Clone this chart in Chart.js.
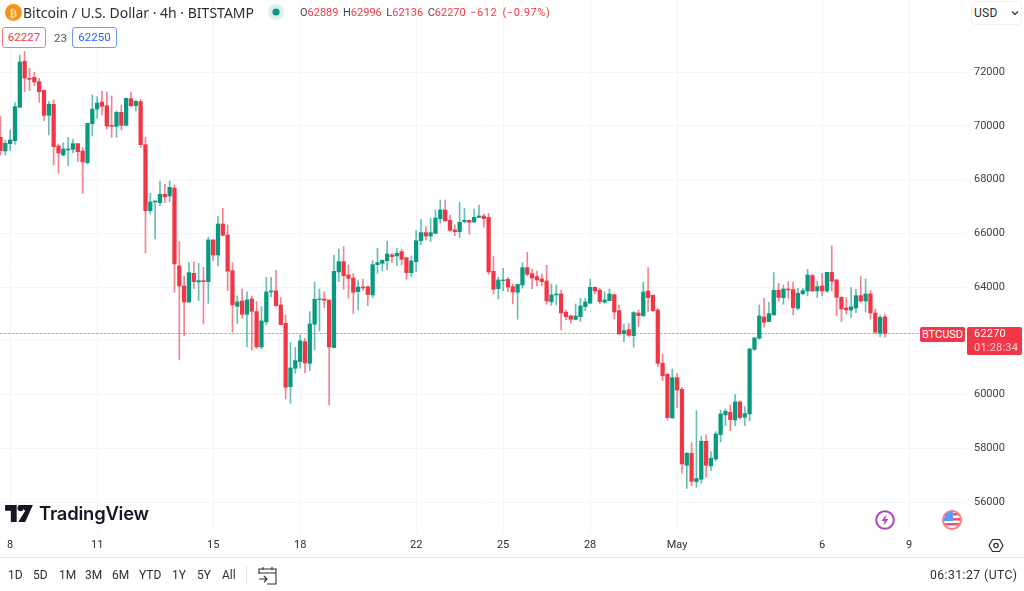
<!DOCTYPE html>
<html>
<head>
<meta charset="utf-8">
<title>BTCUSD 4h</title>
<script src="https://cdn.jsdelivr.net/npm/chart.js@4/dist/chart.umd.min.js"></script>
<style>
  html, body { margin: 0; padding: 0; background: #fff; }
  body { width: 1024px; height: 591px; position: relative; overflow: hidden; font-family: Roboto, sans-serif; color: #131722; }
  #wrap { position: absolute; left: 0; top: 0; width: 1024px; height: 557px; }
  .t { position: absolute; white-space: nowrap; line-height: 16px; }
  .title { left: 23px; top: 5px; font-family: "Noto Sans", sans-serif; font-size: 14px; color: #2a2e39; }
  .ohlc { left: 300px; top: 5px; font-size: 11px; color: #434651; }
  .ohlc b { font-weight: 400; color: #f23645; margin-right: 4.5px; }
  .ohlc b.chg { letter-spacing: .55px; word-spacing: 2px; }
  .box { position: absolute; box-sizing: border-box; height: 21px; top: 27px; border-radius: 3px; font-size: 11.5px; line-height: 19px; text-align: center; background: #fff; }
  .bar { top: 567px; font-size: 12px; color: #2a2e39; }
  .rule { position: absolute; background: #e0e3eb; }
  .tag { position: absolute; background: #f23645; color: #fff; font-size: 11px; border-radius: 2px; }
  svg { position: absolute; }
</style>
</head>
<body>
<div id="wrap"><canvas id="chart" width="1024" height="557"></canvas></div>

<svg style="left:5px;top:4px" width="17" height="17" viewBox="0 0 17 17"><circle cx="8.5" cy="8.5" r="8.5" fill="#f7931a"/><text x="8.5" y="12.5" font-size="11" font-family="DejaVu Sans" font-weight="700" fill="#fde3bd" text-anchor="middle">₿</text></svg>
<div class="t title">Bitcoin / U.S. Dollar · 4h · BITSTAMP</div>
<svg style="left:268px;top:4px" width="16" height="16"><circle cx="8" cy="8" r="8" fill="#dcefeb"/><circle cx="8" cy="8" r="3.6" fill="#089981"/></svg>
<div class="t ohlc">O<b>62889</b>H<b>62996</b>L<b>62136</b>C<b>62270</b><b class="chg">−612 (−0.97%)</b></div>
<div class="box" style="left:2px;width:44px;border:1px solid #f77c80;color:#f23645">62227</div>
<div class="t" style="left:54px;top:30px;font-size:11.5px;color:#50535e">23</div>
<div class="box" style="left:72px;width:45px;border:1px solid #6b9cf8;color:#2962ff">62250</div>
<div class="box" style="left:971px;top:1px;width:51px;height:24px;border:1px solid #eef0f3;border-radius:4px;font-size:12px;line-height:22px;text-align:left;padding-left:2px;color:#2a2e39;letter-spacing:.3px">USD</div>
<svg style="left:1011px;top:10px" width="8" height="6" fill="none" stroke="#2a2e39" stroke-width="1.2"><path d="M1 1.5 4 4.5 7 1.5"/></svg>

<div class="tag" style="left:920px;top:327px;width:45px;height:15px;line-height:15px;text-align:center">BTCUSD</div>
<div class="tag" style="left:967px;top:327px;width:55px;height:28px;padding-left:7px;box-sizing:border-box;line-height:13.5px;letter-spacing:.2px">62270<br><span style="opacity:.75">01:28:34</span></div>

<svg style="left:5px;top:505px" width="28" height="17" viewBox="0 0 36 22"><path d="M0 0h15v22H7.5V7.5H0zM17.5 0h18.5L26 22h-9L26 7.5" fill="#131722"/><circle cx="20" cy="4" r="4" fill="#131722"/></svg>
<div class="t" style="left:39px;top:503px;font-family:Inter,sans-serif;font-size:18.4px;line-height:20px;font-weight:600;letter-spacing:-.2px;color:#131722">TradingView</div>

<svg style="left:875px;top:510px" width="20" height="20"><circle cx="10" cy="10" r="8.8" fill="#fff" stroke="#ab47bc" stroke-width="2"/><path d="M11.5 4.5 6.5 11h3l-1 4.5 5-6.5h-3z" fill="#ab47bc"/></svg>
<svg style="left:942px;top:510px" width="20" height="20"><defs><clipPath id="c"><circle cx="10" cy="10" r="8.2"/></clipPath></defs><circle cx="10" cy="10" r="9" fill="#fff" stroke="#f77c80" stroke-width="2"/><g clip-path="url(#c)"><rect y="3" width="20" height="2.5" fill="#f7525f"/><rect y="8" width="20" height="2.5" fill="#f7525f"/><rect y="13" width="20" height="2.5" fill="#f7525f"/><rect y="1" width="11" height="10" fill="#5b9cf6"/></g></svg>
<svg style="left:988px;top:538px" width="16" height="15" viewBox="0 0 16 15" fill="none" stroke="#2a2e39" stroke-width="1.2"><path d="M4.5 1.5h7L15 7.5l-3.5 6h-7L1 7.5z"/><circle cx="8" cy="7.5" r="2.2"/></svg>

<div class="rule" style="left:0;top:557px;width:1024px;height:1px"></div>
<div id="ranges"></div>
<div class="rule" style="left:246px;top:566px;width:1px;height:19px"></div>
<svg style="left:258px;top:566px" width="20" height="19" viewBox="0 0 20 19" fill="none" stroke="#2a2e39" stroke-width="1.1"><path d="M1 8V3h17v15H9M1 7h17M5 1v3M14 1v3M1 13h8M6 10l3 3-3 3"/></svg>
<div class="t bar" style="left:930px;letter-spacing:.45px;font-size:12.2px">06:31:27 (UTC)</div>

<script>
const opens = [
  69569,69061,69334,69445,70685,72396,71764,71801,71640,71318,
  70388,70797,69247,68912,69098,69123,69334,69061,68627,70078,
  70623,70884,70747,70016,69978,70499,70016,71008,70747,70896,
  69296,66841,67164,67139,67449,67387,67684,64783,64039,63444,
  64510,64188,64237,64200,65750,65192,66345,65936,64609,63282,
  63481,62985,63555,63084,61770,62700,63816,63853,63332,62650,
  60294,60976,61224,61968,61162,62613,63530,63555,63518,61745,
  64560,64944,64448,64336,63828,64002,64014,63704,64832,64882,
  64981,65192,65155,65316,65093,64535,64944,65725,66023,65899,
  65998,66544,66866,66482,66122,66060,66432,66482,66420,66593,
  66643,66593,64584,63940,64237,64287,64014,63803,64076,64721,
  64498,64386,64299,64225,63444,63704,63741,63059,62923,62799,
  62898,63270,63394,63989,63878,63431,63493,63716,63121,62266,
  62414,62191,63034,62935,63853,63692,63146,61162,60753,59128,
  60629,60195,57368,57814,56760,56847,58260,57343,57603,58508,
  59240,59339,59054,59724,59153,59277,61683,62092,62886,62712,
  62960,63878,63605,63927,63902,63208,63754,63853,64423,63853,
  64039,63853,64547,64262,63617,63220,63146,63220,63679,63481,
  63741,63034,62278,62889
];
const highs = [
  70338,69470,69842,70859,72632,72768,72136,71987,71764,71330,
  70896,70958,69321,69371,69569,69495,69346,69185,70090,71144,
  71082,71280,71256,71107,70549,70772,71020,71256,70958,70983,
  69569,67486,67201,67945,67821,67945,67796,65688,64411,64919,
  64944,64882,64733,65849,65775,66618,66928,66308,64907,63667,
  63927,63816,63667,63456,63270,64361,64361,64634,63605,62960,
  61943,61757,62216,62092,63084,64175,63927,63828,63518,65192,
  65415,65502,64820,64510,64262,64299,64014,64981,65440,65006,
  65713,65254,65440,65403,65093,65155,66097,66519,66246,66556,
  66866,67238,67238,66680,66308,67151,66928,66494,66903,67052,
  66717,66742,65130,64361,64696,64361,64113,64101,64907,65291,
  64659,64597,64485,64808,64113,64076,63890,63146,62960,63369,
  63580,63580,64299,64014,63952,63828,63927,63741,63332,62625,
  62650,63084,63146,64175,64721,63704,63208,61509,60790,60951,
  60790,60269,57839,58211,59401,58434,58496,57876,58620,59426,
  59463,59612,59996,59761,59550,61720,62129,63332,63580,63431,
  64535,64138,64076,64200,64175,63952,63952,64659,64473,64225,
  64510,64547,65527,64299,63642,63617,63977,63915,64386,64299,
  63865,63183,62960,62996
];
const lows = [
  68912,68912,69073,69309,70685,71268,71305,71491,70871,70189,
  69656,68540,68230,68875,68503,68999,68664,67486,68577,69619,
  70276,70400,69867,69569,69569,69842,69991,70710,70549,69197,
  65266,66717,65787,67015,67139,67176,63803,61286,62179,63419,
  63940,63493,62625,63394,64981,64783,65899,63865,62328,62650,
  62836,61782,61658,61720,61708,62588,63642,63282,62588,59835,
  59674,60790,60976,60815,60889,61658,62365,63233,59612,61745,
  64200,63915,63580,63010,63146,63865,63307,63605,64510,64597,
  64634,64907,64795,64820,64287,64386,64560,65564,65750,65688,
  65973,66370,66432,66060,65911,65837,66395,65973,66395,66593,
  66221,64473,63741,63555,63865,63828,63369,62799,63952,64411,
  63940,64039,64039,63357,63307,63332,62402,62774,62650,62774,
  62712,63121,63394,63741,63369,63394,63493,62811,62253,61968,
  62154,61757,62526,62898,63084,63084,61038,60517,59054,59116,
  59513,57070,56500,56599,56549,56698,56921,57169,57529,58236,
  58843,58657,58843,59079,58843,59017,61633,62055,62501,62712,
  62960,63456,63357,63580,62960,63146,63704,63667,63828,63605,
  63667,63803,63853,62923,62712,62997,62873,63047,63419,63072,
  62799,62278,62154,62136
];
const closes = [
  69073,69346,69470,70710,72372,71776,71727,71628,71268,70388,
  70797,69222,68986,69135,69135,69334,69036,68652,70090,70623,
  70846,70722,69991,69978,70499,70016,71020,70747,70908,69296,
  66841,67164,67201,67449,67350,67709,64857,64039,63444,64535,
  64200,64237,64200,65750,65192,66345,65924,64584,63332,63444,
  62985,63518,63096,61770,62737,63816,63853,63307,62600,60269,
  60988,61261,61993,61174,62625,63543,63555,63506,61770,64584,
  64944,64423,64324,63803,64002,63964,63716,64832,64907,64994,
  65229,65130,65254,65031,64535,64969,65725,66023,65899,66023,
  66568,66866,66469,66110,66060,66407,66482,66407,66593,66643,
  66544,64560,63915,64262,64262,64002,63816,64101,64721,64473,
  64336,64262,64200,63481,63704,63741,63034,62898,62799,62923,
  63295,63444,63989,63853,63456,63518,63741,63072,62253,62377,
  62204,63047,62935,63816,63605,63121,61162,60703,59141,60629,
  60170,57417,57814,56772,56872,58260,57368,57628,58533,59277,
  59376,59066,59724,59141,59290,61695,62104,62923,62687,63010,
  63878,63617,63927,63890,63233,63766,63865,64448,63853,64014,
  63853,64547,64212,63617,63183,63146,63258,63679,63481,63741,
  63034,62315,62873,62270
];
const priceTicks = [56000, 58000, 60000, 62000, 64000, 66000, 68000, 70000, 72000];
const dayTickCandles = [2, 20, 44, 62, 86, 104, 122, 140, 170, 188];
const dayTickLabels = ['8', '11', '15', '18', '22', '25', '28', 'May', '6', '9'];
const rangeLabels = ['1D', '5D', '1M', '3M', '6M', 'YTD', '1Y', '5Y', 'All'];
const rangeLeft = [8, 33, 59, 85, 112, 139, 172, 197, 222];
const lastPrice = 62270;

const UP = '#089981', DOWN = '#f23645';
const UP_WICK = 'rgba(8,153,129,.62)', DOWN_WICK = 'rgba(242,54,69,.62)';
const GRID = '#f3f5f9';
const FONT = 'Roboto, sans-serif';

document.getElementById('ranges').innerHTML = rangeLabels.map((r, i) =>
  `<div class="t bar" style="left:${rangeLeft[i]}px">${r}</div>`).join('');

const isUp = opens.map((o, i) => closes[i] >= o);

new Chart(document.getElementById('chart'), {
  type: 'bar',
  data: {
    datasets: [
      {
        // wicks
        data: opens.map((_, i) => ({ x: i, y: [lows[i], highs[i]] })),
        backgroundColor: isUp.map(u => u ? UP_WICK : DOWN_WICK),
        barThickness: 1, grouped: false, order: 2
      },
      {
        // bodies
        data: opens.map((o, i) => ({ x: i, y: [o, closes[i]] })),
        backgroundColor: isUp.map(u => u ? UP : DOWN),
        barThickness: 3.6, grouped: false, order: 1
      },
      {
        // last price line
        type: 'line',
        data: [{ x: -0.1, y: lastPrice }, { x: 190.3, y: lastPrice }],
        borderColor: 'rgba(242,54,69,.5)', borderWidth: 1, borderDash: [3, 1],
        pointRadius: 0, order: 3
      }
    ]
  },
  options: {
    responsive: false, animation: false,
    layout: { padding: 0 },
    plugins: { legend: { display: false }, tooltip: { enabled: false } },
    scales: {
      x: {
        type: 'linear', min: -0.1, max: 199.98, offset: false,
        afterBuildTicks: s => { s.ticks = dayTickCandles.map(v => ({ value: v })); },
        afterFit: s => { s.height = 24; s.paddingLeft = 0; s.paddingRight = 0; },
        grid: { color: GRID, drawTicks: false, offset: false },
        border: { display: false },
        ticks: {
          autoSkip: false, maxRotation: 0, padding: 6,
          color: '#2a2e39', font: { family: FONT, size: 11 },
          callback: v => dayTickLabels[dayTickCandles.indexOf(v)]
        }
      },
      y: {
        position: 'right', min: 54847, max: 74679,
        afterBuildTicks: s => { s.ticks = priceTicks.map(v => ({ value: v })); },
        afterFit: s => { s.width = 57; s.paddingTop = 0; s.paddingBottom = 0; },
        grid: { color: GRID, drawTicks: false },
        border: { display: false },
        ticks: { padding: 7, color: '#3c404b', font: { family: FONT, size: 11 }, callback: v => String(v) }
      }
    }
  }
});
</script>
</body>
</html>
